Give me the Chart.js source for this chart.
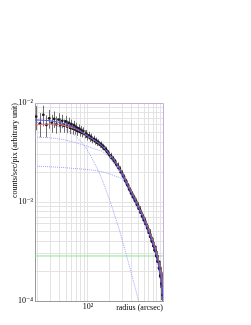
<!DOCTYPE html>
<html>
<head>
<meta charset="utf-8">
<script src="https://cdn.jsdelivr.net/npm/chart.js@4.4.1/dist/chart.umd.min.js"></script>
<style>
html, body { margin: 0; padding: 0; background: #fff; }
#profile { display: block; }
</style>
</head>
<body>
<canvas id="profile" width="251" height="325"></canvas>
<script>
// radial surface brightness profile (counts/sec/pix vs radius in arcsec)
const radius = [19, 21.5, 24, 26.5, 29, 31.5, 34, 36.5, 39, 41.5, 44, 46.5, 49, 51.5, 54, 56.5, 59, 61.5, 64, 66.5, 69, 71.5, 74, 76.5, 79,
    82, 86, 90, 94, 98, 102, 106, 110, 115, 120, 125, 130, 135, 140, 146, 152, 158, 164, 170, 177, 184, 191, 198,
    206, 214, 222, 230, 239, 248, 257, 266, 276, 286, 296, 306, 317, 328, 339, 350, 362, 374, 386, 398,
    411, 424, 437, 450, 464, 478, 492, 506, 521, 536, 551, 566, 582, 598, 614, 630, 647, 664, 681, 698,
    716, 734, 752, 770, 789, 808, 827, 846, 866, 886, 906, 926, 946, 966, 986, 1006, 1026, 1046, 1066, 1086];
const counts = [7.3e-3, 6.2e-3, 7.6e-3, 6.0e-3, 7.0e-3, 6.3e-3, 6.9e-3, 6.1e-3, 6.8e-3, 6.0e-3, 6.6e-3, 5.9e-3, 6.5e-3, 5.8e-3, 6.3e-3, 5.6e-3, 6.1e-3, 5.5e-3, 5.95e-3, 5.4e-3, 5.7e-3, 5.2e-3, 5.55e-3, 5.1e-3, 5.35e-3,
    5.0e-3, 5.2e-3, 4.85e-3, 4.9e-3, 4.6e-3, 4.72e-3, 4.42e-3, 4.55e-3, 4.25e-3, 4.35e-3, 4.1e-3, 4.18e-3, 3.95e-3, 4.02e-3, 3.78e-3, 3.84e-3, 3.62e-3, 3.64e-3, 3.42e-3, 3.41e-3, 3.2e-3, 3.17e-3, 2.98e-3,
    2.96e-3, 2.77e-3, 2.76e-3, 2.59e-3, 2.57e-3, 2.39e-3, 2.37e-3, 2.2e-3, 2.17e-3, 2.0e-3, 1.98e-3, 1.83e-3, 1.79e-3, 1.64e-3, 1.62e-3, 1.49e-3, 1.46e-3, 1.34e-3, 1.32e-3, 1.22e-3,
    1.21e-3, 1.12e-3, 1.11e-3, 1.03e-3, 1.02e-3, 9.4e-4, 9.35e-4, 8.6e-4, 8.5e-4, 7.85e-4, 7.75e-4, 7.15e-4, 7.1e-4, 6.55e-4, 6.5e-4, 6.0e-4, 5.95e-4, 5.45e-4, 5.4e-4, 4.9e-4,
    4.9e-4, 4.45e-4, 4.4e-4, 4.0e-4, 3.95e-4, 3.6e-4, 3.55e-4, 3.25e-4, 3.2e-4, 2.85e-4, 2.8e-4, 2.5e-4, 2.5e-4, 2.15e-4, 2.1e-4, 1.8e-4, 1.75e-4, 1.5e-4, 1.45e-4, 1.15e-4];
const countErr = [2.0e-3, 1.7e-3, 1.8e-3, 1.5e-3, 1.5e-3, 1.3e-3, 1.3e-3, 1.2e-3, 1.1e-3, 1.0e-3, 1.0e-3, 9e-4, 9e-4, 8.5e-4, 8e-4, 7.5e-4, 7e-4, 7e-4, 6.5e-4, 6e-4, 6e-4, 5.5e-4, 5.2e-4, 5.2e-4, 5e-4,
    5.0e-4, 4.8e-4, 4.6e-4, 4.4e-4, 4.2e-4, 4.0e-4, 3.8e-4, 3.6e-4, 3.4e-4, 3.3e-4, 3.1e-4, 3.0e-4, 2.8e-4, 2.7e-4, 2.6e-4, 2.5e-4, 2.4e-4, 2.3e-4, 2.2e-4, 2.1e-4, 2.0e-4, 1.9e-4, 1.8e-4,
    1.8e-4, 1.7e-4, 1.6e-4, 1.6e-4, 1.5e-4, 1.4e-4, 1.4e-4, 1.3e-4, 1.3e-4, 1.2e-4, 1.2e-4, 1.2e-4, 1.1e-4, 1.1e-4, 1.0e-4, 1.0e-4, 9.5e-5, 9e-5, 9e-5, 8.5e-5,
    8e-5, 8e-5, 7.5e-5, 7e-5, 7e-5, 6.5e-5, 6.5e-5, 6e-5, 6e-5, 5.5e-5, 5.5e-5, 5e-5, 5e-5, 5e-5, 4.8e-5, 4.6e-5, 4.5e-5, 4.4e-5, 4.3e-5, 4.2e-5,
    4.2e-5, 4.1e-5, 4.1e-5, 4e-5, 4e-5, 4e-5, 4e-5, 4e-5, 4e-5, 4e-5, 4e-5, 4e-5, 4.2e-5, 4.2e-5, 4.4e-5, 4.5e-5, 4.6e-5, 4.8e-5, 5e-5, 5.2e-5];

// best fit (blue) and alternative fit (red)
const modelR = [18.4, 25, 30, 40, 50, 60, 70, 80, 100, 130, 160, 200, 240, 280, 330, 380, 450, 530, 620, 730, 850, 940, 1000, 1070, 1100];
const modelV = [6.75e-3, 6.68e-3, 6.6e-3, 6.38e-3, 6.1e-3, 5.82e-3, 5.5e-3, 5.2e-3, 4.64e-3, 4.1e-3, 3.65e-3, 3.0e-3, 2.52e-3, 2.1e-3, 1.65e-3, 1.33e-3, 1.05e-3, 8.1e-4, 6.3e-4, 4.6e-4, 3.3e-4, 2.5e-4, 1.95e-4, 1.4e-4, 1.05e-4];
const altR = [18.4, 32.7, 62, 77.4, 100, 130, 160, 200, 240, 280, 330, 380, 450, 530, 620, 730, 850, 940, 1000, 1070, 1100];
const altV = [6.0e-3, 6.14e-3, 5.59e-3, 5.21e-3, 4.62e-3, 4.08e-3, 3.63e-3, 3.02e-3, 2.55e-3, 2.13e-3, 1.68e-3, 1.36e-3, 1.07e-3, 8.3e-4, 6.5e-4, 4.8e-4, 3.45e-4, 2.65e-4, 2.1e-4, 1.55e-4, 1.3e-4];

// model components (dotted)
const compAR = [18.4, 40.8, 85.2, 125, 162, 202, 278, 383, 527, 726, 937, 1067];
const compAV = [4.54e-3, 4.33e-3, 3.77e-3, 3.43e-3, 3.2e-3, 2.78e-3, 1.96e-3, 1.23e-3, 7.57e-4, 4.33e-4, 2.31e-4, 1.29e-4];
const compBR = [18.4, 56.2, 162, 237, 326, 383, 527, 726, 937, 1067];
const compBV = [2.31e-3, 2.2e-3, 2.01e-3, 1.83e-3, 1.63e-3, 1.38e-3, 7.92e-4, 4.43e-4, 2.37e-4, 1.29e-4];
const compCR = [18.4, 40.8, 62, 85, 100, 117, 138, 162, 202, 237, 278, 326, 383, 450, 527];
const compCV = [6.43e-3, 5.73e-3, 4.87e-3, 3.86e-3, 3.27e-3, 2.65e-3, 2.1e-3, 1.59e-3, 1.02e-3, 7.22e-4, 4.98e-4, 3.27e-4, 2.15e-4, 1.38e-4, 8.9e-5];
const bkgR = [18.4, 1100];
const bkgV = [2.85e-4, 2.85e-4];

// axes
const xTicks = [20, 30, 40, 50, 60, 70, 80, 90, 100, 200, 300, 400, 500, 600, 700, 800, 900, 1000];
const yTicks = [1e-4, 2e-4, 3e-4, 4e-4, 5e-4, 6e-4, 7e-4, 8e-4, 9e-4, 1e-3, 2e-3, 3e-3, 4e-3, 5e-3, 6e-3, 7e-3, 8e-3, 9e-3, 1e-2];
const xMajor = [100];
const xMajorLabels = ['10²'];
const yMajor = [1e-4, 1e-3, 1e-2];
const yMajorLabels = ['10⁻⁴', '10⁻³', '10⁻²'];

const pts = (xs, ys) => xs.map((x, i) => ({x: x, y: ys[i]}));
const labelFor = (v, majors, labels) => {
    const i = majors.findIndex((m) => Math.abs(v / m - 1) < 1e-6);
    return i >= 0 ? labels[i] : '';
};
const serif = "'Liberation Serif', 'DejaVu Serif', serif";

const errorBars = {
    id: 'errorBars',
    beforeDatasetDraw(chart, args) {
        if (chart.data.datasets[args.index].label !== 'data') return;
        const {ctx, chartArea, scales} = chart;
        ctx.save();
        ctx.beginPath();
        ctx.rect(chartArea.left, chartArea.top, chartArea.right - chartArea.left, chartArea.bottom - chartArea.top);
        ctx.clip();
        ctx.strokeStyle = '#6e6e6e';
        ctx.lineWidth = 1;
        ctx.beginPath();
        radius.forEach((r, i) => {
            const px = Math.round(scales.x.getPixelForValue(r)) + 0.5;
            const lo = Math.max(counts[i] - countErr[i], 1e-6);
            ctx.moveTo(px, scales.y.getPixelForValue(lo));
            ctx.lineTo(px, scales.y.getPixelForValue(counts[i] + countErr[i]));
        });
        ctx.stroke();
        ctx.restore();
    }
};

const frame = {
    id: 'frame',
    afterDraw(chart) {
        const {ctx, chartArea} = chart;
        ctx.save();
        ctx.strokeStyle = '#c4aedb';
        ctx.lineWidth = 1;
        ctx.beginPath();
        ctx.moveTo(chartArea.left, chartArea.top + 0.5);
        ctx.lineTo(chartArea.right + 0.5, chartArea.top + 0.5);
        ctx.lineTo(chartArea.right + 0.5, chartArea.bottom);
        ctx.stroke();
        ctx.restore();
    }
};

const line = (label, xs, ys, color, dash, order) => ({
    label: label,
    data: pts(xs, ys),
    showLine: true,
    borderColor: color,
    borderWidth: 1,
    borderDash: dash,
    pointRadius: 0,
    cubicInterpolationMode: 'monotone',
    order: order,
});

new Chart(document.querySelector('#profile'), {
    type: 'scatter',
    data: {
        datasets: [
            line('model', modelR, modelV, '#5050ee', [], 0),
            line('alt', altR, altV, '#f06a6a', [], 1),
            {
                label: 'data',
                data: pts(radius, counts),
                showLine: false,
                pointRadius: 1.4,
                pointBackgroundColor: '#1a1a1a',
                pointBorderWidth: 0,
                order: 2,
            },
            line('compA', compAR, compAV, '#a0a0ff', [1, 1], 3),
            line('compB', compBR, compBV, '#a0a0ff', [1, 1], 3),
            line('compC', compCR, compCV, '#a0a0ff', [1, 1], 3),
            line('bkg', bkgR, bkgV, '#8fe58f', [], 4),
        ],
    },
    options: {
        responsive: false,
        animation: false,
        devicePixelRatio: 1,
        layout: { padding: { left: 0, right: 88, top: 103, bottom: 0 } },
        plugins: { legend: { display: false }, tooltip: { enabled: false } },
        scales: {
            x: {
                type: 'logarithmic',
                min: 18.4,
                max: 1100,
                afterBuildTicks: (scale) => { scale.ticks = xTicks.map((v) => ({value: v})); },
                afterFit: (scale) => { scale.height = 24; },
                grid: { color: '#e3e3e3', drawTicks: false },
                border: { color: '#9a9a9a' },
                ticks: {
                    autoSkip: false,
                    maxRotation: 0,
                    padding: 1,
                    color: '#000',
                    font: { family: serif, size: 8 },
                    callback: (v) => labelFor(v, xMajor, xMajorLabels),
                },
                title: {
                    display: true,
                    text: 'radius (arcsec)',
                    align: 'end',
                    color: '#000',
                    font: { family: serif, size: 8 },
                    padding: { top: 0, bottom: 12 },
                },
            },
            y: {
                type: 'logarithmic',
                min: 1e-4,
                max: 1e-2,
                afterBuildTicks: (scale) => { scale.ticks = yTicks.map((v) => ({value: v})); },
                afterFit: (scale) => { scale.width = 35; },
                grid: { color: '#e3e3e3', drawTicks: false },
                border: { color: '#9a9a9a' },
                ticks: {
                    autoSkip: false,
                    padding: 2,
                    color: '#000',
                    font: { family: serif, size: 8 },
                    callback: (v) => labelFor(v, yMajor, yMajorLabels),
                },
                title: {
                    display: true,
                    text: 'counts/sec/pix (arbitrary unit)',
                    align: 'end',
                    color: '#000',
                    font: { family: serif, size: 8 },
                    padding: { top: 10, bottom: 0 },
                },
            },
        },
    },
    plugins: [errorBars, frame],
});
</script>
</body>
</html>
